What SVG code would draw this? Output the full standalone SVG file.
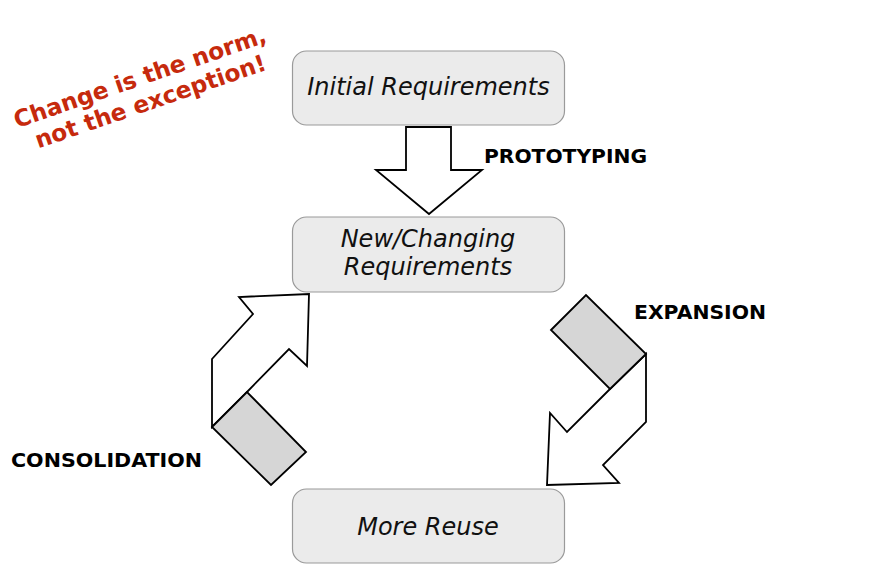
<svg xmlns="http://www.w3.org/2000/svg" width="872" height="587" viewBox="0 0 872 587">
<style>
.node rect{fill:#ebebeb;stroke:#9a9a9a;stroke-width:1.2}
.node text{font-family:"DejaVu Sans",Verdana,sans-serif;font-style:italic;font-size:24px;fill:#111;text-anchor:middle}
.arrow{fill:#fff;stroke:#000;stroke-width:1.8;stroke-linejoin:miter}
.band{fill:#d6d6d6;stroke:#000;stroke-width:1.8}
.lbl{font-family:"DejaVu Sans",Verdana,sans-serif;font-weight:bold;font-size:20.3px;fill:#000}
.note{font-family:"DejaVu Sans",Verdana,sans-serif;font-weight:bold;font-size:23.3px;fill:#c62a0d;text-anchor:middle}
</style>
<rect width="872" height="587" fill="#fff"/>
<g id="note">
<text class="note" transform="translate(142.5,85) rotate(-19)">Change is the norm,</text>
<text class="note" transform="translate(153,109) rotate(-19)">not the exception!</text>
</g>
<g id="initial" class="node">
<rect x="292.5" y="51" width="272" height="74" rx="14"/>
<text x="428.5" y="95">Initial Requirements</text>
</g>
<g id="changing" class="node">
<rect x="292.5" y="217" width="272" height="75" rx="14"/>
<text x="428" y="247">New/Changing</text>
<text x="428" y="275">Requirements</text>
</g>
<g id="reuse" class="node">
<rect x="292.5" y="489" width="272" height="74" rx="14"/>
<text x="428" y="535">More Reuse</text>
</g>
<g id="connectors">
<polygon class="arrow" points="406,127 451,127 451,170 482,170 429,214 376,170 406,170"/>
<polygon class="arrow" points="212,427 212,359 253,314 239,297 309,294 307,366 289,349 247,392"/>
<polygon class="band" points="212,427 247,392 306,452 271,485"/>
<polygon class="arrow" points="646,354 646,422 603,465 619,483 547,485 550,413 567,432 610,389"/>
<polygon class="band" points="551,330 586,295 646,354 610,389"/>
</g>
<g id="labels">
<text class="lbl" x="484" y="162.5" textLength="163" lengthAdjust="spacingAndGlyphs">PROTOTYPING</text>
<text class="lbl" x="634" y="318.5" textLength="132" lengthAdjust="spacingAndGlyphs">EXPANSION</text>
<text class="lbl" x="11" y="467" textLength="191" lengthAdjust="spacingAndGlyphs">CONSOLIDATION</text>
</g>
</svg>
